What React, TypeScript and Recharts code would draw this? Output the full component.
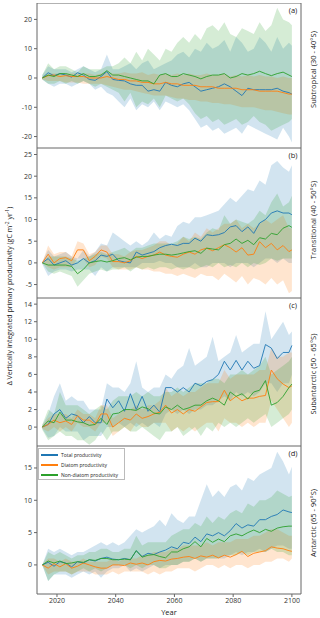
import { ComposedChart, Area, Line, XAxis, YAxis, ReferenceArea, Legend } from "recharts";

// years sampled every second year, plus the final year
const YEARS = [
  2015, 2017, 2019, 2021, 2023, 2025, 2027, 2029, 2031, 2033,
  2035, 2037, 2039, 2041, 2043, 2045, 2047, 2049, 2051, 2053,
  2055, 2057, 2059, 2061, 2063, 2065, 2067, 2069, 2071, 2073,
  2075, 2077, 2079, 2081, 2083, 2085, 2087, 2089, 2091, 2093,
  2095, 2097, 2099, 2100,
];

// (a) Subtropical
const A_TOTAL = [0, 1.8, 0.8, 1.5, 1.0, 0.3, 1.8, 1.0, -0.5, -0.8, 0.5, 2.2, -0.5, -0.8, -1.0, -2.0, -2.5, -2.5, -4.5, -4.0, -4.5, -1.5, -2.5, -3.0, -2.0, -1.5, -3.0, -4.5, -4.0, -3.5, -3.0, -2.0, -3.0, -4.5, -6.0, -3.5, -4.0, -4.0, -4.0, -4.0, -3.5, -4.5, -5.0, -5.5];
const A_TOTAL_LO = [-0.5, -2, -3, -2, -2, -3, -2, -1, -2, -4, -3, -5, -6, -8, -10, -7, -11, -9, -10, -8, -11, -8, -9, -10, -9, -11, -14, -17, -16, -18, -17, -19, -18, -17, -19, -16, -17, -18, -19, -20, -21, -17, -20, -22];
const A_TOTAL_HI = [1, 4, 3, 3, 3, 2, 3, 4, 3, 2, 3, 8, 3, 3, 4, 5, 3, 5, 6, 3, 4, 5, 6, 8, 9, 7, 10, 9, 12, 10, 11, 13, 9, 14, 12, 9, 10, 14, 12, 9, 14, 10, 12, 11];
const A_DIATOM = [0, 0.8, 1.0, 0.5, 0.8, 0.5, 0.5, 0.5, 0, 0, 0, 0.5, 0, -0.5, -0.5, -1.0, -1.0, -1.5, -1.5, -2.0, -2.0, -1.5, -2.0, -2.0, -2.5, -2.5, -2.5, -3.0, -3.0, -3.0, -3.5, -3.5, -3.5, -3.5, -4.0, -4.0, -4.0, -4.5, -4.5, -4.5, -4.5, -5.0, -5.5, -5.5];
const A_DIATOM_LO = [-0.5, -1, -1, -1, -1.5, -1.5, -1.5, -2, -2, -2, -2, -2.5, -3, -3.5, -4, -4, -4.5, -5, -5.5, -6, -6, -6, -6.5, -7, -7, -7.5, -7.5, -8, -8, -8.5, -8.5, -9, -9, -9.5, -10, -10, -10, -10.5, -11, -11, -11.5, -12, -12.5, -12.5];
const A_DIATOM_HI = [0.5, 1.5, 1.5, 1.5, 1.5, 1.5, 1.5, 1.5, 1.5, 1, 1.5, 2, 1.5, 1.5, 2, 1.5, 1.5, 2, 1, 1.5, 1, 1.5, 1, 1.5, 1, 1.5, 1, 1, 1.5, 1, 1, 1.5, 0.5, 1, 0.5, 1, 0.5, 1, 0.5, 0.5, 0, 0.5, 0, 0];
const A_NONDIATOM = [0, 1.0, 0.5, 1.5, 1.5, 1.0, 0.5, 1.5, 0.5, 0.5, 1.0, 2.5, 1.0, 1.0, 0.5, 0, -0.5, -1.0, -1.0, -2.0, 1.0, 1.5, 0.5, 0.5, 1.5, 1.0, 0.5, -0.3, 0.5, 1.0, 1.0, 1.5, 0, 0.5, 1.5, 1.0, 1.5, 2.3, 1.5, 0.8, 1.5, 2.0, 1.0, 0.5];
const A_NONDIATOM_LO = [-0.5, -2, -2, -1, -2, -1, -2, -1, -2, -3, -2, -3, -4, -5, -8, -5, -10, -8, -9, -7, -10, -6, -7, -8, -7, -9, -12, -14, -13, -15, -14, -16, -15, -14, -16, -15, -13, -15, -16, -18, -17, -16, -15, -14];
const A_NONDIATOM_HI = [1, 5, 3, 4, 4, 3, 2, 4, 3, 3, 3, 4, 4, 5, 7, 5, 9, 6, 10, 8, 6, 10, 9, 12, 14, 12, 15, 13, 17, 18, 16, 19, 15, 14, 17, 16, 15, 19, 16, 18, 24, 20, 19, 18];

// (b) Transitional
const B_TOTAL = [0, 1.0, -0.5, 0, 0.5, -0.5, 0, 1.0, 0, 0.5, 1.8, 1.5, 2.0, 0.5, 0.2, 0, 2.5, 1.8, 2.2, 2.6, 3.5, 4.0, 4.3, 4.0, 4.5, 4.5, 5.7, 5.0, 6.5, 6.3, 6.5, 7.0, 8.3, 8.6, 7.2, 8.3, 6.8, 9.2, 10.0, 11.5, 12.0, 11.5, 11.5, 11.1];
const B_TOTAL_LO = [-0.3, -3, -2, -1.5, -1.5, -2, -1.5, -1.5, -1.5, -3, -1, -2, -1, -1, -1, -1, -1, 0, 0, 0, 0.5, 0, 0, -1, -1, -1, 0, -1, -1, 0, 0, 0, -1, 0, 0, 0, -1, 0, 1, 1, 0, 1, 0, 0];
const B_TOTAL_HI = [0.3, 3, 1.5, 2, 2.5, 1.5, 1, 3, 1.5, 2.5, 4.5, 4, 7, 6, 5, 4, 5, 4, 5, 7, 5.5, 6.5, 6, 8.5, 9.5, 9, 10.5, 10.5, 11, 11.5, 12, 13.5, 15, 14, 15.5, 17, 16.5, 19, 18, 22.5, 23.5, 22, 21, 22.5];
const B_DIATOM = [0, 2.0, 0, 1.0, 1.2, 0.5, 3.0, 3.0, 0.5, 1.5, 3.0, 2.5, 0.3, 0.3, 0, 0.5, 1.5, 1.0, 1.5, 1.8, 2.5, 1.8, 1.5, 1.3, 2.0, 2.5, 2.0, 3.0, 3.4, 2.8, 3.5, 4.2, 3.5, 2.5, 3.5, 1.8, 2.0, 4.9, 3.5, 4.5, 3.0, 4.0, 2.6, 3.0];
const B_DIATOM_LO = [0, -1, -1.5, -1, -1, -1, 1, 1, -1, -0.5, 1.5, 1, -1, -1.5, -1.5, -1.5, -1, -1.5, -1.5, -2, -2, -2.5, -2.5, -3, -2.5, -3, -3.5, -2.5, -3, -3, -4, -2.5, -3.5, -4.5, -3, -5, -3.5, -4, -5, -3.5, -5, -4, -7, -6.5];
const B_DIATOM_HI = [0, 4, 2, 2.5, 2.5, 1.5, 5, 4.5, 2, 2.5, 4, 4, 2, 2, 1.5, 2.5, 3, 3, 3.5, 4, 5, 5, 4, 4.5, 6, 5, 7, 6, 8, 7, 8, 9, 9, 10, 8, 9, 8, 9, 10, 9, 10, 11, 8, 8];
const B_NONDIATOM = [0, -0.5, -0.5, -0.5, -0.5, -0.8, -2.5, -1.5, 0, 0.3, 0.5, 0.2, 0.5, 1.0, 1.2, 0.7, 1.3, 1.5, 1.5, 1.8, 2.0, 2.0, 1.8, 2.0, 2.3, 2.6, 2.8, 2.2, 3.4, 3.2, 3.0, 4.2, 4.5, 5.5, 4.5, 5.2, 4.2, 5.8, 5.5, 6.8, 6.5, 8.0, 8.6, 8.2];
const B_NONDIATOM_LO = [0, -2, -2.5, -2, -2.5, -3, -5.5, -4, -2.5, -2, -1.5, -2, -1.5, -1.5, -1, -2, -1, -1.5, -1, -1.5, -1, -1, -1.5, -1, -1.5, -1, -1.5, -1, -0.5, -1, 0, -1, -0.5, -1, 0, -1, 0, -0.5, 0, 1, 0.5, 1, 1, 1];
const B_NONDIATOM_HI = [0, 1.5, 1.5, 1.5, 1.5, 1, 0.5, 1, 1.5, 2, 2.5, 2, 2.5, 3, 3.5, 2.5, 3.5, 3.5, 4, 4.5, 4.5, 4.5, 4.5, 5, 6, 5.5, 6, 5.5, 7, 8, 7.5, 11, 9, 10, 9.5, 9, 10, 12, 11, 14, 16, 13, 14, 15.5];

// (c) Subantarctic
const C_TOTAL = [0, 0.3, 1.5, 2.0, 1.0, 1.5, 1.3, 0.5, 1.2, 0.5, 0.5, 3.2, 2.2, 3.0, 1.8, 3.8, 2.0, 3.5, 1.8, 2.5, 1.7, 4.5, 4.5, 4.0, 4.5, 4.0, 5.0, 4.7, 5.2, 5.4, 6.0, 7.5, 6.5, 7.6, 6.5, 7.5, 6.7, 7.0, 9.4, 9.0, 7.8, 8.5, 8.5, 9.3];
const C_TOTAL_LO = [-0.2, -1.2, -1, 0, -0.5, -0.5, -0.5, -1.5, -1, -1, -1, 0, 0, 0.5, 0, 0.5, 0, 0.5, 0, 0.5, 0, 1.5, 2, 1.5, 2, 1.5, 2, 2, 2.5, 2.5, 3, 3.5, 3, 4, 3.5, 4, 3.5, 4, 5, 5, 4, 5, 5, 6];
const C_TOTAL_HI = [0.2, 1.5, 3.5, 5.0, 3.0, 3.5, 3.0, 3.0, 2.0, 2.0, 2.0, 5.0, 4.5, 4.5, 4.0, 5.0, 7.5, 4.5, 4.0, 4.5, 4.5, 6.0, 5.5, 6.5, 7.0, 9.0, 7.0, 7.5, 8.0, 10.3, 7.5, 8.0, 8.5, 10.5, 8.5, 9.0, 9.5, 9.5, 13.2, 10.0, 11.0, 12.0, 10.5, 10.9];
const C_DIATOM = [0, 0.3, 0.8, 0.5, 0.7, 0.3, 1.3, 0.8, 0.8, 0.3, 1.5, 1.5, 0, 0.5, 1.0, 0.8, 1.5, 1.0, 1.2, 1.5, 1.7, 2.5, 1.6, 2.0, 1.5, 2.0, 1.8, 2.3, 2.8, 2.9, 2.9, 4.2, 3.0, 3.5, 3.0, 3.3, 3.3, 3.5, 3.6, 6.5, 5.5, 4.9, 4.5, 4.7];
const C_DIATOM_LO = [-0.2, -0.5, 0, -0.5, 0, -0.5, 0.5, 0, 0, -0.5, 0.5, 0.5, -1, -0.5, 0, -0.5, 0.5, 0, 0, 0.5, 0.5, 0.5, -0.5, 0, -0.5, 0, -0.5, 0, 0.5, 0.5, -0.5, 1, 0.5, 0.5, 0, 0.5, 0, 0.5, 0.5, 3, 2, 1, 0, 0.5];
const C_DIATOM_HI = [0.2, 1, 1.5, 1.5, 1.5, 1, 2, 1.5, 1.5, 1, 2.5, 2.5, 1, 1.5, 2, 2, 2.5, 2, 2.5, 2.5, 3, 4.5, 3.5, 4, 3.5, 4, 4, 4.5, 5, 5, 5, 6.5, 5.5, 6, 6, 6, 6, 6.5, 6.5, 9, 8, 8, 8.5, 8.5];
const C_NONDIATOM = [0, 0.7, 0.5, 1.7, 0.8, 0.8, 0.6, 0.5, 0.2, 0.3, 1.0, 0.3, 1.5, 1.6, 2.0, 2.0, 1.9, 2.3, 2.1, 1.6, 1.5, 2.3, 2.0, 2.5, 2.0, 2.2, 2.5, 2.5, 3.0, 3.3, 3.0, 2.5, 4.0, 3.5, 3.8, 3.2, 4.0, 4.2, 5.3, 2.5, 2.8, 3.5, 4.5, 4.9];
const C_NONDIATOM_LO = [-0.3, -1.5, -1, -0.5, -1, -1, -1.5, -1.5, -2, -1.5, -0.5, -1.5, -0.5, -0.5, 0, -0.5, -0.5, 0, -0.5, -1, -1.5, -0.5, -0.5, 0, -1, -0.5, 0, -1, 0, -0.5, 0.5, 0, 0.5, 0, 0.5, 1, 0.5, 1, 1.5, 0, 0.5, 1, 1.5, 2];
const C_NONDIATOM_HI = [0.3, 2, 1.5, 4, 2.5, 2.5, 2.5, 2, 1.5, 2, 2.5, 2, 3, 3.5, 3.5, 3.5, 4, 3.5, 4, 3.5, 3.5, 4, 4, 4.5, 4, 4.5, 5, 5, 5, 5.5, 5.5, 5, 6, 6, 6.5, 6, 6.5, 7, 8, 6, 6.5, 7, 7.5, 8];

// (d) Antarctic
const D_TOTAL = [0, 0.4, -0.2, 0.5, 0.3, -0.3, 0.5, 0.3, 0.8, 0.6, 1.0, 1.2, 0.9, 0.8, 1.0, 0.8, 2.2, 1.3, 1.8, 1.6, 2.0, 2.3, 2.8, 2.5, 3.5, 3.3, 4.3, 3.6, 4.8, 4.5, 5.0, 4.5, 5.3, 6.4, 5.7, 6.2, 6.0, 7.0, 7.0, 7.5, 7.8, 8.5, 8.2, 8.1];
const D_TOTAL_LO = [0, -2.5, -1.5, -1.5, -1.5, -2, -1.5, -1, -1.5, -1, -2, -1, -0.5, -0.5, 0, -1, -0.5, -1, -0.5, 0, -0.5, 0, 0, 0, 0.5, 0.5, 1, 0.5, 1, 1, 1, 1, 1.5, 2, 1.5, 2, 2, 2.5, 2, 2.5, 3, 3, 2.5, 2.5];
const D_TOTAL_HI = [0, 2.5, 2, 2.5, 2, 1.5, 2, 2, 2.5, 3, 3.5, 3, 3.5, 3, 3.5, 4.5, 5.5, 5, 5.5, 6, 7, 6, 8, 7, 6.5, 7.5, 7.5, 10, 12.5, 10.5, 11.5, 10.5, 12, 12.5, 11.5, 13.5, 13, 14, 14.5, 15, 17.5, 16, 14, 15.2];
const D_DIATOM = [0, -0.5, 0.2, -0.3, 0.2, -0.5, -0.2, 0.3, 0, -0.3, -0.5, -0.5, 0, 0, -0.1, 0.3, 0.1, 0.3, 0, 0.5, 0.7, 0.6, 0.9, 1.0, 1.2, 1.3, 1.0, 1.4, 1.2, 1.5, 1.1, 1.5, 1.2, 1.6, 2.1, 1.3, 1.8, 2.0, 2.2, 2.8, 2.6, 2.5, 2.2, 2.1];
const D_DIATOM_LO = [0, -1.5, -1, -1, -1, -1.5, -1, -1, -1, -1.5, -1.5, -1.5, -1, -1.5, -1, -1, -1, -1, -1.5, -1, -1.5, -1, -1, -0.5, -0.5, -0.5, -1, -0.5, 0, 0, -0.5, 0, -0.5, 0, 0, -0.5, 0, 0, 0.5, 0.5, 1, 1, 0.5, 1];
const D_DIATOM_HI = [0, 1, 1, 0.5, 1, 0.5, 0.5, 1, 0.5, 0.5, 0.5, 0.5, 1, 0.5, 1, 1, 1, 1.5, 1.5, 2, 2, 2, 2.5, 2.5, 3, 3, 3, 3, 3.5, 3, 3.5, 3.5, 3.5, 4, 4, 4, 4.5, 4.5, 5, 5.5, 5.5, 5, 4.5, 4.5];
const D_NONDIATOM = [0, 0.6, 0.3, 0.6, 0.2, 0.3, 0.5, 0.4, 0.8, 0.7, 1.0, 1.0, 0.8, 0.8, 0.9, 0.8, 2.2, 1.2, 1.5, 1.6, 1.3, 1.1, 2.0, 2.0, 2.5, 2.8, 3.6, 2.8, 4.1, 3.5, 4.0, 3.6, 4.5, 4.8, 4.5, 5.0, 5.4, 5.0, 5.5, 5.2, 5.7, 5.9, 6.0, 6.0];
const D_NONDIATOM_LO = [0, -2.5, -1.5, -1, -1, -1.5, -1, -0.5, -1, -0.5, -1, -0.5, 0, 0, 0, -0.5, 0, -0.5, 0, 0, -0.5, -0.5, 0, 0, 0.5, 0.5, 1, 0.5, 1, 1, 1, 1.5, 1.5, 1.5, 2, 1.5, 2, 2, 2, 2.5, 2, 2, 1.5, 1.5];
const D_NONDIATOM_HI = [0, 2, 1.5, 2, 1.5, 1, 1.5, 1.5, 2, 2, 2.5, 2.5, 2, 2, 2.5, 2.5, 4.5, 3, 3.5, 3.5, 3.5, 3.5, 4.5, 5, 5.5, 5.5, 6.5, 6, 7.5, 6.5, 7.5, 7, 8, 8.5, 8, 9.5, 9, 10, 10, 10.5, 11.5, 11, 10.5, 10.7];

const SERIES = [
  { key: "total", name: "Total productivity", color: "#1f77b4" },
  { key: "diatom", name: "Diatom productivity", color: "#ff7f0e" },
  { key: "nondiatom", name: "Non-diatom productivity", color: "#2ca02c" },
];

const X_DOMAIN = [2013.2, 2103.1];
const X_TICKS = [2020, 2040, 2060, 2080, 2100];
const FONT = "'Open Sans', 'DejaVu Sans', sans-serif";
const FRAME = "#666";

function buildRows(s: Record<string, number[]>) {
  return YEARS.map((year, i) => ({
    year,
    total: s.total[i],
    totalBand: [s.totalLo[i], s.totalHi[i]],
    diatom: s.diatom[i],
    diatomBand: [s.diatomLo[i], s.diatomHi[i]],
    nondiatom: s.nondiatom[i],
    nondiatomBand: [s.nondiatomLo[i], s.nondiatomHi[i]],
  }));
}

const PANELS = [
  {
    letter: "(a)", region: "Subtropical (30 - 40°S)", top: 3, height: 145,
    domain: [-23.9, 25.6], ticks: [-20, -10, 0, 10, 20], shift: -6,
    rows: buildRows({ total: A_TOTAL, totalLo: A_TOTAL_LO, totalHi: A_TOTAL_HI, diatom: A_DIATOM, diatomLo: A_DIATOM_LO, diatomHi: A_DIATOM_HI, nondiatom: A_NONDIATOM, nondiatomLo: A_NONDIATOM_LO, nondiatomHi: A_NONDIATOM_HI }),
  },
  {
    letter: "(b)", region: "Transitional (40 - 50°S)", top: 148, height: 150,
    domain: [-8.1, 26.5], ticks: [-5, 0, 5, 10, 15, 20, 25], shift: -3,
    rows: buildRows({ total: B_TOTAL, totalLo: B_TOTAL_LO, totalHi: B_TOTAL_HI, diatom: B_DIATOM, diatomLo: B_DIATOM_LO, diatomHi: B_DIATOM_HI, nondiatom: B_NONDIATOM, nondiatomLo: B_NONDIATOM_LO, nondiatomHi: B_NONDIATOM_HI }),
  },
  {
    letter: "(c)", region: "Subantarctic (50 - 65°S)", top: 298, height: 148,
    domain: [-2.15, 14.7], ticks: [-2, 0, 2, 4, 6, 8, 10, 12, 14], shift: 2,
    rows: buildRows({ total: C_TOTAL, totalLo: C_TOTAL_LO, totalHi: C_TOTAL_HI, diatom: C_DIATOM, diatomLo: C_DIATOM_LO, diatomHi: C_DIATOM_HI, nondiatom: C_NONDIATOM, nondiatomLo: C_NONDIATOM_LO, nondiatomHi: C_NONDIATOM_HI }),
  },
  {
    letter: "(d)", region: "Antarctic (65 - 90°S)", top: 446, height: 148,
    domain: [-4.5, 18.4], ticks: [0, 5, 10, 15], shift: 3,
    rows: buildRows({ total: D_TOTAL, totalLo: D_TOTAL_LO, totalHi: D_TOTAL_HI, diatom: D_DIATOM, diatomLo: D_DIATOM_LO, diatomHi: D_DIATOM_HI, nondiatom: D_NONDIATOM, nondiatomLo: D_NONDIATOM_LO, nondiatomHi: D_NONDIATOM_HI }),
  },
];

// panel letter inside the frame, region name rotated outside on the right
function PanelText({ viewBox, letter, region, shift }: any) {
  if (!viewBox) return null;
  const { x, y, width, height } = viewBox;
  const rx = x + width + 12;
  const ry = y + height / 2 + shift;
  return (
    <g fontFamily={FONT} fill="#222">
      <text x={x + width - 8} y={y + 9.7} textAnchor="middle" fontSize={7.5}>{letter}</text>
      <text x={rx} y={ry} transform={`rotate(-90 ${rx} ${ry})`} textAnchor="middle" dominantBaseline="central" fontSize={7.5}>
        {region}
      </text>
    </g>
  );
}

function LegendBox() {
  return (
    <div style={{ width: 87, height: 32, boxSizing: "border-box", border: "1px solid #bbb", background: "#fff", padding: "1px 2px", fontFamily: FONT }}>
      {SERIES.map((s) => (
        <div key={s.key} style={{ display: "flex", alignItems: "center", height: 10 }}>
          <span style={{ display: "inline-block", width: 17, height: 2, background: s.color, marginRight: 3 }} />
          <span style={{ fontSize: 5, color: "#222", whiteSpace: "nowrap" }}>{s.name}</span>
        </div>
      ))}
    </div>
  );
}

function Panel({ panel, last }: any) {
  const chartHeight = panel.height + (last ? 24 : 0);
  return (
    <div style={{ position: "absolute", left: 0, top: panel.top }}>
      <ComposedChart width={320} height={chartHeight} data={panel.rows} margin={{ top: 0, right: 19, bottom: 0, left: 0 }}>
        <XAxis
          dataKey="year"
          type="number"
          domain={X_DOMAIN}
          ticks={X_TICKS}
          allowDataOverflow
          hide={!last}
          height={last ? 24 : 0}
          axisLine={false}
          tickLine={{ stroke: FRAME }}
          tickSize={3}
          tickMargin={1}
          tick={{ fontSize: 7, fill: "#333", fontFamily: FONT }}
          label={{ value: "Year", position: "insideBottom", offset: 3, fontSize: 7.5, fill: "#222", fontFamily: FONT }}
        />
        <YAxis
          type="number"
          domain={panel.domain}
          ticks={panel.ticks}
          allowDataOverflow
          width={37}
          axisLine={false}
          tickLine={{ stroke: FRAME }}
          tickSize={3}
          tickMargin={2}
          tick={{ fontSize: 7, fill: "#333", fontFamily: FONT }}
        />
        {SERIES.map((s) => (
          <Area
            key={s.key + "Band"}
            type="linear"
            dataKey={s.key + "Band"}
            stroke="none"
            fill={s.color}
            fillOpacity={0.2}
            dot={false}
            activeDot={false}
            isAnimationActive={false}
          />
        ))}
        {SERIES.map((s) => (
          <Line
            key={s.key}
            type="linear"
            dataKey={s.key}
            stroke={s.color}
            strokeWidth={0.9}
            dot={false}
            activeDot={false}
            isAnimationActive={false}
          />
        ))}
        <ReferenceArea
          x1={X_DOMAIN[0]}
          x2={X_DOMAIN[1]}
          y1={panel.domain[0]}
          y2={panel.domain[1]}
          fill="none"
          fillOpacity={0}
          stroke={FRAME}
          strokeWidth={1}
          ifOverflow="visible"
          label={(props: any) => <PanelText {...props} letter={panel.letter} region={panel.region} shift={panel.shift} />}
        />
        {last && (
          <Legend
            layout="vertical"
            align="center"
            verticalAlign="middle"
            content={<LegendBox />}
            wrapperStyle={{ left: 38, top: 2, width: 87, height: 32 }}
          />
        )}
      </ComposedChart>
    </div>
  );
}

export default function App() {
  return (
    <div style={{ position: "absolute", left: 0, top: 0, width: 320, height: 618, background: "#fff", fontFamily: FONT }}>
      {PANELS.map((p, i) => (
        <Panel key={p.letter} panel={p} last={i === PANELS.length - 1} />
      ))}
      <svg width={20} height={618} style={{ position: "absolute", left: 0, top: 0 }}>
        <text transform="translate(9, 296) rotate(-90)" textAnchor="middle" dominantBaseline="central" fontSize={7} fill="#222" fontFamily={FONT}>
          Δ Vertically integrated primary productivity (gC m
          <tspan dy={-2.5} fontSize={5}>-2</tspan>
          <tspan dy={2.5}> yr</tspan>
          <tspan dy={-2.5} fontSize={5}>-1</tspan>
          <tspan dy={2.5}>)</tspan>
        </text>
      </svg>
    </div>
  );
}
